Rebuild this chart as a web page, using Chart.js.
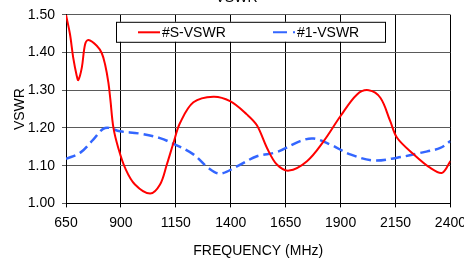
<!DOCTYPE html>
<html>
<head>
<meta charset="utf-8">
<script src="https://cdn.jsdelivr.net/npm/chart.js@4.4.1/dist/chart.umd.min.js"></script>
<style>
  html, body { margin: 0; padding: 0; background: #fff; overflow: hidden; }
  #wrap { position: relative; width: 464px; height: 258px; overflow: hidden; }
  #wrap canvas { position: absolute; left: 0; top: -10px; }
</style>
</head>
<body>
<div id="wrap"><canvas id="vswr" width="473" height="270"></canvas></div>
<script>
// frequency (MHz) / VSWR
const sFreq = [650, 668, 683, 699, 706, 722, 737, 752, 790, 813, 828, 843, 852, 866, 888, 919, 964, 1033, 1078, 1109, 1139, 1169, 1230, 1321, 1397, 1473, 1519, 1565, 1610, 1665, 1747, 1823, 1899, 1975, 2028, 2081, 2126, 2157, 2233, 2309, 2362, 2400];
const sVswr = [1.500, 1.449, 1.386, 1.338, 1.327, 1.360, 1.422, 1.433, 1.418, 1.398, 1.368, 1.320, 1.275, 1.200, 1.147, 1.094, 1.050, 1.026, 1.050, 1.103, 1.160, 1.213, 1.268, 1.283, 1.271, 1.236, 1.207, 1.147, 1.103, 1.087, 1.112, 1.165, 1.231, 1.289, 1.300, 1.280, 1.218, 1.174, 1.130, 1.094, 1.081, 1.112];

const oneFreq = [650, 714, 774, 828, 896, 987, 1078, 1147, 1230, 1298, 1352, 1428, 1519, 1610, 1716, 1777, 1853, 1944, 2050, 2157, 2263, 2354, 2400];
const oneVswr = [1.118, 1.134, 1.169, 1.200, 1.191, 1.185, 1.173, 1.156, 1.130, 1.094, 1.079, 1.098, 1.125, 1.136, 1.165, 1.172, 1.156, 1.130, 1.114, 1.121, 1.134, 1.147, 1.165];

const seriesNames = ['#S-VSWR', '#1-VSWR'];
const freqTicks = [650, 900, 1150, 1400, 1650, 1900, 2150, 2400];
const vswrTicks = [1.00, 1.10, 1.20, 1.30, 1.40, 1.50];

const FONT = 'Liberation Sans, Arial, sans-serif';

function toPoints(xs, ys) {
    return xs.map((x, i) => ({ x: x, y: ys[i] }));
}

// legend drawn as a boxed key inside the plot, like the original
const boxedLegend = {
    id: 'boxedLegend',
    afterDraw(chart) {
        const c = chart.ctx;
        const a = chart.chartArea;
        const bx = a.left + 50, by = a.top + 7, bw = 269, bh = 20;
        c.save();
        c.fillStyle = '#fff';
        c.fillRect(bx, by, bw, bh);
        c.strokeStyle = '#000';
        c.lineWidth = 1;
        c.strokeRect(bx + 0.5, by + 0.5, bw, bh);
        c.font = '14px ' + FONT;
        c.textBaseline = 'middle';
        c.fillStyle = '#000';
        const cy = by + bh / 2 + 0.5;
        chart.data.datasets.forEach((ds, i) => {
            const lx = bx + 22 + i * 135;
            c.beginPath();
            c.strokeStyle = ds.borderColor;
            c.lineWidth = 2;
            c.setLineDash(i === 1 ? [14, 6] : []);
            c.moveTo(lx, cy);
            c.lineTo(lx + 22, cy);
            c.stroke();
            c.setLineDash([]);
            c.fillText(ds.label, lx + 24, cy + 1);
        });
        c.restore();
    }
};

new Chart(document.getElementById('vswr'), {
    type: 'line',
    data: {
        datasets: [{
            label: seriesNames[0],
            data: toPoints(sFreq, sVswr),
            borderColor: '#ff0000',
            borderWidth: 2,
            pointRadius: 0,
            tension: 0.35,
            fill: false
        }, {
            label: seriesNames[1],
            data: toPoints(oneFreq, oneVswr),
            borderColor: '#3366ff',
            borderWidth: 2.5,
            borderDash: [10, 5],
            pointRadius: 0,
            tension: 0.35,
            fill: false
        }]
    },
    options: {
        responsive: false,
        animation: false,
        layout: { padding: { left: 0, right: 0, top: 0, bottom: 0 } },
        plugins: {
            legend: { display: false },
            tooltip: { enabled: false },
            title: {
                display: true,
                text: 'VSWR',
                color: '#000',
                font: { family: FONT, size: 14, weight: 'normal' },
                padding: { top: 0, bottom: 8 }
            }
        },
        scales: {
            x: {
                type: 'linear',
                min: 650,
                max: 2400,
                afterBuildTicks(axis) {
                    axis.ticks = freqTicks.map(v => ({ value: v }));
                },
                ticks: {
                    color: '#000',
                    padding: 7,
                    maxRotation: 0,
                    font: { family: FONT, size: 14 },
                    callback: v => String(v)
                },
                grid: { color: '#000', lineWidth: 1, tickLength: 4, tickColor: '#000' },
                border: { color: '#000', width: 1 },
                title: {
                    display: true,
                    text: 'FREQUENCY (MHz)',
                    color: '#000',
                    font: { family: FONT, size: 14 },
                    padding: { top: 5, bottom: 0 }
                }
            },
            y: {
                min: 1.0,
                max: 1.5,
                afterBuildTicks(axis) {
                    axis.ticks = vswrTicks.map(v => ({ value: v }));
                },
                afterFit(axis) {
                    axis.width = 66;
                },
                ticks: {
                    color: '#000',
                    padding: 7,
                    font: { family: FONT, size: 14 },
                    callback: v => v.toFixed(2)
                },
                grid: { color: '#5a5a5a', lineWidth: 1, tickLength: 4, tickColor: '#5a5a5a' },
                border: { color: '#000', width: 1 },
                title: {
                    display: true,
                    text: 'VSWR',
                    color: '#000',
                    font: { family: FONT, size: 14 },
                    padding: { top: 12, bottom: 0 }
                }
            }
        }
    },
    plugins: [boxedLegend]
});
</script>
</body>
</html>
